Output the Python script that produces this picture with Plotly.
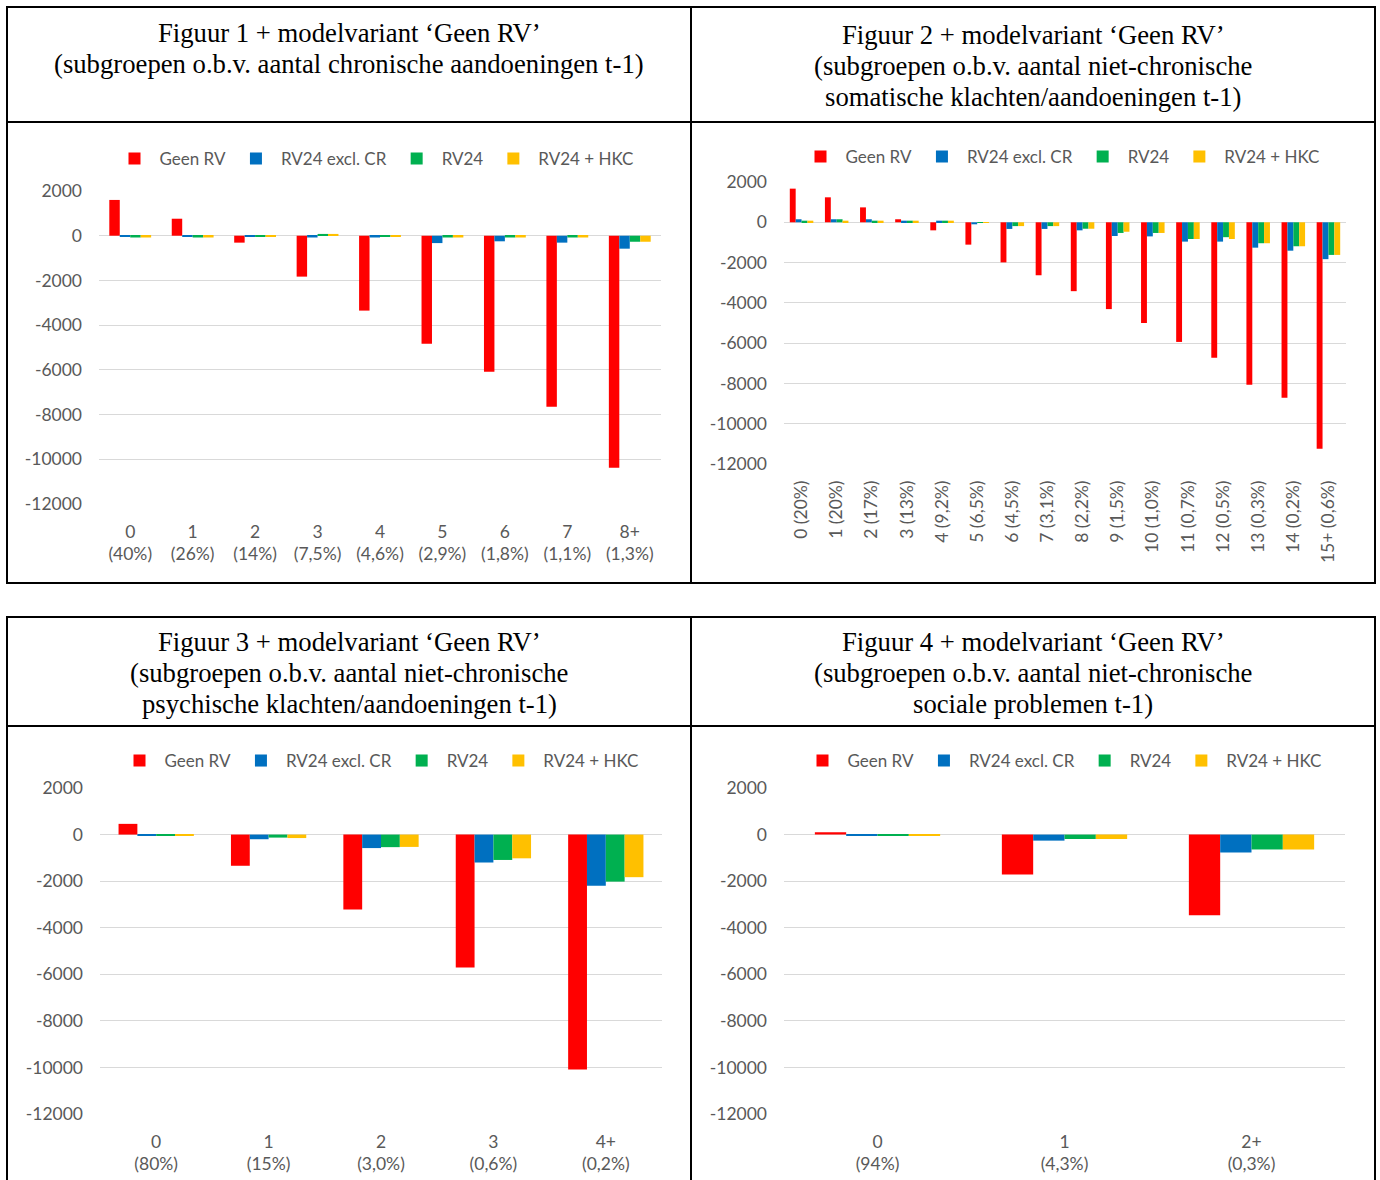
import plotly.graph_objects as go

W, H = 1380, 1180

# ---- data -------------------------------------------------------------
series_names = ["Geen RV", "RV24 excl. CR", "RV24", "RV24 + HKC"]
series_colors = ["#FF0000", "#0070C0", "#00B050", "#FFC000"]

cats1 = ["0<br>(40%)", "1<br>(26%)", "2<br>(14%)", "3<br>(7,5%)", "4<br>(4,6%)",
         "5<br>(2,9%)", "6<br>(1,8%)", "7<br>(1,1%)", "8+<br>(1,3%)"]
geen1 = [1600, 760, -310, -1830, -3350, -4830, -6090, -7650, -10380]
excl1 = [-30, -30, -30, -80, -80, -330, -250, -310, -580]
rv24_1 = [-80, -80, -30, 80, -30, -80, -80, -80, -270]
hkc1 = [-80, -80, -30, 80, -30, -80, -80, -80, -270]

cats2 = ["0 (20%)", "1 (20%)", "2 (17%)", "3 (13%)", "4 (9,2%)", "5 (6,5%)",
         "6 (4,5%)", "7 (3,1%)", "8 (2,2%)", "9 (1,5%)", "10 (1,0%)", "11 (0,7%)",
         "12 (0,5%)", "13 (0,3%)", "14 (0,2%)", "15+ (0,6%)"]
geen2 = [1670, 1240, 740, 150, -400, -1110, -1990, -2630, -3420, -4310, -5000,
         -5940, -6730, -8070, -8710, -11240]
excl2 = [150, 150, 150, 80, 80, -100, -330, -330, -400, -680, -700, -960, -960,
         -1260, -1410, -1830]
rv24_2 = [80, 150, 80, 80, 80, -30, -190, -190, -320, -530, -530, -830, -740,
          -1040, -1190, -1620]
hkc2 = [80, 80, 80, 80, 80, -30, -190, -190, -320, -470, -530, -830, -830,
        -1040, -1190, -1620]

cats3 = ["0<br>(80%)", "1<br>(15%)", "2<br>(3,0%)", "3<br>(0,6%)", "4+<br>(0,2%)"]
geen3 = [460, -1340, -3220, -5710, -10090]
excl3 = [-30, -200, -580, -1200, -2200]
rv24_3 = [-30, -130, -540, -1090, -2020]
hkc3 = [-30, -150, -530, -1020, -1830]

cats4 = ["0<br>(94%)", "1<br>(4,3%)", "2+<br>(0,3%)"]
geen4 = [100, -1720, -3460]
excl4 = [-30, -260, -770]
rv24_4 = [-30, -190, -640]
hkc4 = [-30, -190, -640]

title_lines = [
    ["Figuur 1 + modelvariant ‘Geen RV’",
     "(subgroepen o.b.v. aantal chronische aandoeningen t-1)"],
    ["Figuur 2 + modelvariant ‘Geen RV’",
     "(subgroepen o.b.v. aantal niet-chronische",
     "somatische klachten/aandoeningen t-1)"],
    ["Figuur 3 + modelvariant ‘Geen RV’",
     "(subgroepen o.b.v. aantal niet-chronische",
     "psychische klachten/aandoeningen t-1)"],
    ["Figuur 4 + modelvariant ‘Geen RV’",
     "(subgroepen o.b.v. aantal niet-chronische",
     "sociale problemen t-1)"],
]

y_ticks = [2000, 0, -2000, -4000, -6000, -8000, -10000, -12000]

# ---- helpers (pixel -> paper) ------------------------------------------
def px(x):
    return x / W

def py(y):
    return 1 - y / H

SANS = "Lato, 'Open Sans', sans-serif"
SERIF = "'Liberation Serif', 'Times New Roman', serif"
GREY = "#595959"
GRID = "#D9D9D9"

panels = [
    dict(cats=cats1, vals=[geen1, excl1, rv24_1, hkc1], x0=99, x1=661, y0=191, y1=504,
         legx=374, legy=159, angle=0),
    dict(cats=cats2, vals=[geen2, excl2, rv24_2, hkc2], x0=784, x1=1346, y0=182, y1=464,
         legx=1060, legy=157, angle=-90),
    dict(cats=cats3, vals=[geen3, excl3, rv24_3, hkc3], x0=100, x1=662, y0=788, y1=1114,
         legx=379, legy=761, angle=0),
    dict(cats=cats4, vals=[geen4, excl4, rv24_4, hkc4], x0=784, x1=1345, y0=788, y1=1114,
         legx=1062, legy=761, angle=0),
]

fig = go.Figure()
layout = dict(
    width=W, height=H,
    margin=dict(l=0, r=0, t=0, b=0, pad=0, autoexpand=False),
    paper_bgcolor="white", plot_bgcolor="white",
    barmode="group", bargap=0.33, bargroupgap=0,
    font=dict(family=SANS, size=17, color=GREY),
    shapes=[], annotations=[],
)

for i, p in enumerate(panels):
    n = "" if i == 0 else str(i + 1)
    xa, ya = "x" + n, "y" + n
    leg = "legend" + n
    for name, color, vals in zip(series_names, series_colors, p["vals"]):
        fig.add_trace(go.Bar(
            x=p["cats"], y=vals, name=name, marker=dict(color=color, line=dict(width=0)),
            xaxis=xa, yaxis=ya, legend=leg, showlegend=True,
        ))
    layout["xaxis" + n] = dict(
        domain=[px(p["x0"]), px(p["x1"])], anchor=ya, automargin=False,
        showgrid=False, showline=False, zeroline=False, ticks="",
        tickangle=p["angle"], tickfont=dict(size=17.5, color=GREY, family=SANS),
        ticklabelstandoff=15 if p["angle"] == 0 else 12, fixedrange=True,
    )
    layout["yaxis" + n] = dict(
        domain=[py(p["y1"]), py(p["y0"])], anchor=xa, automargin=False,
        range=[-12000, 2000], tickvals=y_ticks, ticktext=[str(v) for v in y_ticks],
        showgrid=True, gridcolor=GRID, gridwidth=1,
        zeroline=True, zerolinecolor=GRID, zerolinewidth=1,
        showline=False, ticks="", tickfont=dict(size=17.5, color=GREY, family=SANS),
        ticklabelstandoff=16, fixedrange=True,
    )
    layout[leg] = dict(
        orientation="h", x=px(p["legx"]), y=py(p["legy"]),
        xanchor="center", yanchor="middle",
        font=dict(size=17, color=GREY, family=SANS),
        bgcolor="rgba(0,0,0,0)", itemwidth=40,
    )

# ---- table frame around the four panels --------------------------------
def hline(x0, x1, y):
    return dict(type="line", xref="paper", yref="paper", x0=px(x0), x1=px(x1),
                y0=py(y), y1=py(y), line=dict(color="black", width=2))

def vline(x, y0, y1):
    return dict(type="line", xref="paper", yref="paper", x0=px(x), x1=px(x),
                y0=py(y0), y1=py(y1), line=dict(color="black", width=2))

layout["shapes"] = [
    hline(6, 1376, 7), hline(6, 1376, 122), hline(6, 1376, 583),
    vline(7, 6, 584), vline(691, 6, 584), vline(1375, 6, 584),
    hline(6, 1376, 617), hline(6, 1376, 726),
    vline(7, 616, 1180), vline(691, 616, 1180), vline(1375, 616, 1180),
]

# title lines: (centre x, centre y of first line)
title_pos = [(349, 33), (1033, 35), (349, 642), (1033, 642)]
LINE_STEP = 31
for (cx, cy), lines in zip(title_pos, title_lines):
    for k, txt in enumerate(lines):
        layout["annotations"].append(dict(
            xref="paper", yref="paper", x=px(cx), y=py(cy + k * LINE_STEP),
            xanchor="center", yanchor="middle",
            text=txt, showarrow=False, align="center",
            font=dict(family=SERIF, size=26.7, color="black"),
        ))

fig.update_layout(**layout)
fig.write_html("out.html")
